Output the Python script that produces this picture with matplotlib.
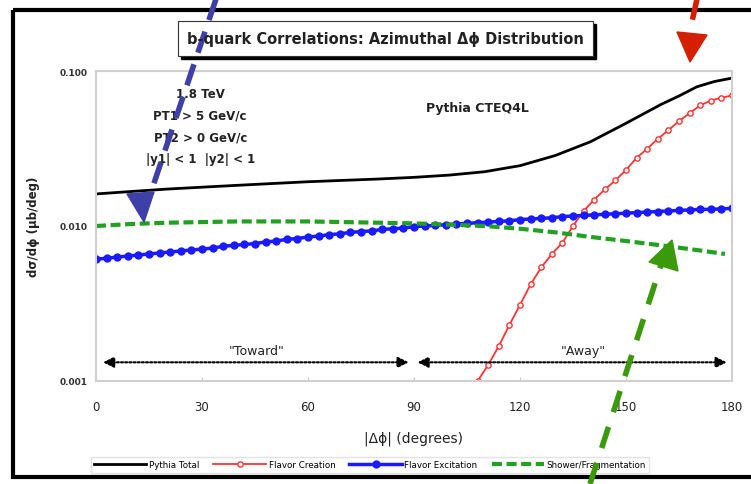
import matplotlib.pyplot as plt
from matplotlib.patches import Rectangle, Polygon
from matplotlib.lines import Line2D

# data
total_x = [0, 10, 20, 30, 40, 50, 60, 70, 80, 90, 100, 110, 120, 130, 140, 150, 160, 165, 170, 175, 180]
total_y = [0.0161, 0.0167, 0.0173, 0.0178, 0.0183, 0.0188, 0.0193, 0.0197, 0.0201, 0.0206,
           0.0213, 0.0224, 0.0245, 0.0285, 0.0350, 0.0460, 0.0610, 0.0690, 0.0790, 0.0855, 0.0900]

creation_x = [108, 111, 114, 117, 120, 123, 126, 129, 132, 135, 138, 141, 144, 147, 150,
              153, 156, 159, 162, 165, 168, 171, 174, 177, 180]
creation_y = [0.00100, 0.00127, 0.00168, 0.00230, 0.0031, 0.0042, 0.0054, 0.0066, 0.0078, 0.0100,
              0.0125, 0.0148, 0.0172, 0.0197, 0.0230, 0.0275, 0.0315, 0.0365, 0.0415, 0.0475,
              0.0535, 0.0600, 0.0645, 0.0672, 0.0695]

excitation_x = list(range(0, 181, 3))
excitation_y = [0.0061, 0.0062, 0.0063, 0.0064, 0.0065, 0.0066, 0.0067, 0.0068, 0.0069, 0.0070,
                0.0071, 0.0072, 0.0074, 0.0075, 0.0076, 0.0077, 0.0079, 0.0080, 0.0082, 0.0083,
                0.0085, 0.0086, 0.0088, 0.0089, 0.0091, 0.0092, 0.0093, 0.0095, 0.0096, 0.0097,
                0.0099, 0.0100, 0.0101, 0.0102, 0.0103, 0.0104, 0.0105, 0.0106, 0.0107, 0.0108,
                0.0110, 0.0111, 0.0112, 0.0113, 0.0115, 0.0116, 0.0117, 0.0118, 0.0119, 0.0120,
                0.0121, 0.0122, 0.0123, 0.0124, 0.0125, 0.0126, 0.0127, 0.0128, 0.0128, 0.0129, 0.0130]

shower_x = [0, 10, 20, 30, 40, 50, 60, 70, 80, 90, 100, 110, 120, 130, 140, 150, 160, 170, 178]
shower_y = [0.0100, 0.0103, 0.0105, 0.0106, 0.0107, 0.0107, 0.0107, 0.0106, 0.0105, 0.0104,
            0.0102, 0.0100, 0.0096, 0.0091, 0.0085, 0.0080, 0.0075, 0.0070, 0.0066]

xticks = [0, 30, 60, 90, 120, 150, 180]
yticks = [0.001, 0.010, 0.100]
ytick_labels = ["0.001", "0.010", "0.100"]

W, H = 751, 485
fig = plt.figure(figsize=(W / 100, H / 100), dpi=100)
fig.patch.set_facecolor('white')

ax = fig.add_axes([96 / W, 1 - 382 / H, 636 / W, 310 / H])
ax.set_yscale('log')
ax.set_xlim(0, 180)
ax.set_ylim(0.001, 0.1)

l1, = ax.plot(total_x, total_y, color='black', lw=2, label='Pythia Total')
l2, = ax.plot(creation_x, creation_y, color='#ff3333', lw=1.3, marker='o', ms=3.8,
              mfc='white', mec='#ff3333', mew=1, label='Flavor Creation')
l3, = ax.plot(excitation_x, excitation_y, color='#1a1aff', lw=2.5, marker='o', ms=5,
              mec='#1a1aff', label='Flavor Excitation')
l4, = ax.plot(shower_x, shower_y, color='#22a022', lw=3, dashes=(2.4, 1.1), label='Shower/Fragmentation')

ax.set_xticks(xticks)
ax.set_xticklabels([str(t) for t in xticks], fontsize=8.5, color='#222222')
ax.set_yticks(yticks)
ax.set_yticklabels(ytick_labels, fontsize=6.5, fontweight='bold', color='#333333')
ax.minorticks_off()
ax.tick_params(axis='both', direction='in', length=3, color='#cccccc', pad=6)
ax.tick_params(axis='x', pad=14)
for s in ax.spines.values():
    s.set_color('#d0d0d0')
    s.set_linewidth(1.5)

ax.set_xlabel('|Δϕ| (degrees)', fontsize=10, color='#222222', labelpad=12)
ax.set_ylabel('dσ/dϕ (μb/deg)', fontsize=8.5, fontweight='bold', color='#222222', labelpad=14)

# toward / away arrows
arr = dict(arrowstyle='<|-|>', color='black', lw=1.5, ls=(0, (1, 1)), mutation_scale=16, shrinkA=0, shrinkB=0)
ax.annotate('', xy=(2, 0.00132), xytext=(88.5, 0.00132), arrowprops=arr)
ax.annotate('', xy=(91, 0.00132), xytext=(178.5, 0.00132), arrowprops=arr)
ax.text(45.5, 0.00158, '"Toward"', ha='center', va='center', fontsize=9, color='#222222')
ax.text(138, 0.00158, '"Away"', ha='center', va='center', fontsize=9, color='#222222')

ax.text(29.5, 0.072, '1.8 TeV', ha='center', va='center', fontsize=8.5, fontweight='bold', color='#222222')
ax.text(29.5, 0.0520, 'PT1 > 5 GeV/c', ha='center', va='center', fontsize=8.5, fontweight='bold', color='#222222')
ax.text(29.5, 0.0375, 'PT2 > 0 GeV/c', ha='center', va='center', fontsize=8.5, fontweight='bold', color='#222222')
ax.text(29.5, 0.0274, '|y1| < 1  |y2| < 1', ha='center', va='center', fontsize=8.5, fontweight='bold', color='#222222')
ax.text(108, 0.058, 'Pythia CTEQ4L', ha='center', va='center', fontsize=9, fontweight='bold', color='#222222')

leg = fig.legend(handles=[l1, l2, l3, l4], loc='center', bbox_to_anchor=(370 / W, 1 - 466 / H),
                 ncol=4, fontsize=6.3, frameon=True, fancybox=False, handlelength=6,
                 columnspacing=1.6, handletextpad=0.3, borderpad=0.35)
leg.get_frame().set_edgecolor('#dddddd')
leg.get_frame().set_linewidth(1)

# overlay in pixel coordinates for frame, title box and pointer arrows
ov = fig.add_axes([0, 0, 1, 1], zorder=10)
ov.set_xlim(0, W)
ov.set_ylim(H, 0)
ov.axis('off')
ov.patch.set_alpha(0)

ov.add_patch(Rectangle((13, 11), 800, 467, fill=False, lw=3, ec='black'))
ov.add_patch(Rectangle((181, 25), 415, 35, fc='black', ec='black'))
ov.add_patch(Rectangle((178, 22), 415, 35, fc='white', ec='#333333', lw=0.8))
ov.text(385, 39.5, 'b-quark Correlations: Azimuthal Δϕ Distribution', ha='center', va='center',
        fontsize=10.5, fontweight='bold', color='#222222')

# blue pointer
ov.add_line(Line2D([216, 150], [0, 196], color='#3f3fa8', lw=4, dashes=(4, 2.2)))
ov.add_patch(Polygon([(127, 195), (154, 193), (144, 223)], closed=True, fc='#3f3fa8', ec='#3f3fa8'))
# red pointer
ov.add_line(Line2D([697, 693], [0, 18], color='#d42000', lw=4))
ov.add_patch(Polygon([(677, 33), (707, 36), (690, 63)], closed=True, fc='#d42000', ec='#d42000'))
# green pointer
ov.add_line(Line2D([590, 661], [485, 266], color='#3a9a0a', lw=4, dashes=(4, 2.8)))
ov.add_patch(Polygon([(649, 263), (678, 272), (672, 241)], closed=True, fc='#3a9a0a', ec='#3a9a0a'))

fig.savefig('out.png', dpi=100)
